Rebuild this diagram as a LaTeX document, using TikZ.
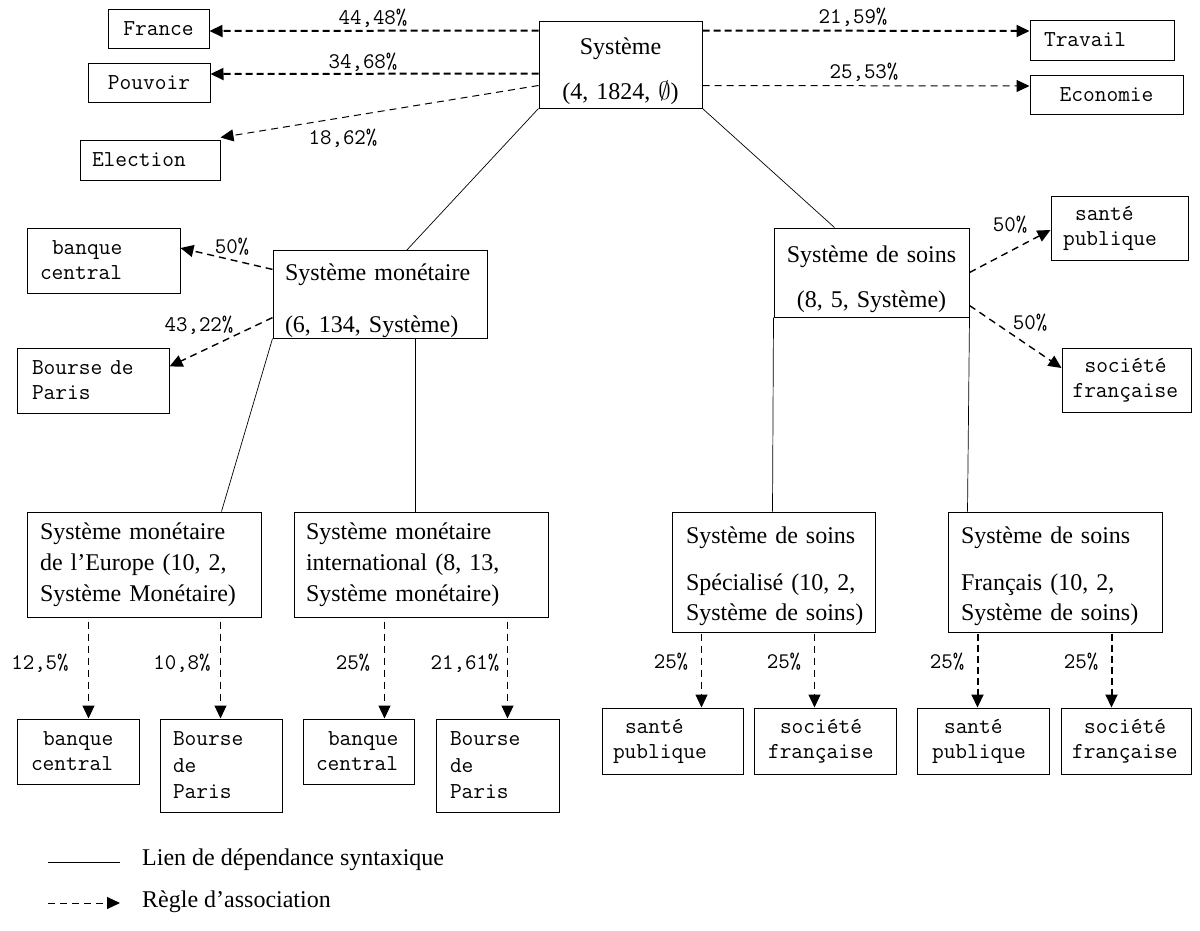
\documentclass[tikz,border=0pt]{standalone}
\usepackage{fontspec}
\setmainfont{Liberation Serif}
\usetikzlibrary{arrows.meta,calc}
\newcommand\mysp{\hspace*{12pt}}
\newcommand\upstrut{\rule{0pt}{30pt}}
\begin{document}
\begin{tikzpicture}[x=1pt,y=-1pt,
  box/.style={draw, line width=1pt, inner ysep=0pt},
  mt/.style={font=\ttfamily\fontsize{22.8}{25}\selectfont},
  mtb/.style={font=\ttfamily\fontsize{22.8}{26.5}\selectfont},
  st/.style={font=\fontsize{24}{30}\selectfont},
  lbl/.style={font=\ttfamily\fontsize{22.3}{24}\selectfont, inner sep=0pt},
  dep/.style={line width=0.7pt},
  tip/.style={-{Triangle[length=13pt,width=12pt]}},
  assocA/.style={tip, line width=2pt, dash pattern=on 7pt off 4pt},
  assocB/.style={tip, line width=1.4pt, dash pattern=on 7pt off 5pt},
  assocC/.style={tip, line width=1pt, dash pattern=on 7pt off 5pt}]
\useasboundingbox (0,0) rectangle (1200,930);

% top row
\node[box, mt, align=center, text width=75pt, inner xsep=13pt, minimum height=39pt] (fr) at (158.5,28.5) {France};
\node[box, mt, align=center, text width=96pt, inner xsep=13pt, minimum height=39pt] (pv) at (149,82.5) {Pouvoir};
\node[box, mt, align=left, text width=116pt, inner xsep=12pt, minimum height=40pt] (el) at (150,160) {Election};
\node[box, font=\fontsize{24}{45}\selectfont, align=center, text width=143pt, inner xsep=10pt, minimum height=87pt] (sys) at (620.5,64.5) {\upstrut Système\\(4, 1824, $\emptyset$)};
\node[box, mt, align=left, text width=116pt, inner xsep=14pt, minimum height=40pt] (tr) at (1102,40) {Travail};
\node[box, mt, align=center, text width=127pt, inner xsep=13pt, minimum height=39pt] (eco) at (1106.5,94.5) {Economie};

% middle row
\node[box, mt, align=left, text width=127pt, inner xsep=13pt, minimum height=65pt] (bc0) at (103.5,260.5) {\mysp banque\\central};
\node[box, mt, align=left, text width=122pt, inner xsep=15pt, minimum height=65pt] (bp0) at (93,380.5) {Bourse de\\Paris};
\node[box, font=\fontsize{24}{52}\selectfont, align=left, text width=190pt, inner xsep=12pt, minimum height=87pt] (sm) at (380,294.5) {\upstrut\mbox{Système monétaire}\\\mbox{(6, 134, Système)}};
\node[box, font=\fontsize{24}{45}\selectfont, align=center, text width=179pt, inner xsep=8pt, minimum height=89pt] (ss) at (871.5,272.5) {\upstrut\mbox{Système de soins}\\\mbox{(8, 5, Système)}};
\node[box, mt, align=left, text width=113pt, inner xsep=12pt, minimum height=64pt] (sp0) at (1119.5,228) {\mysp santé\\publique};
\node[box, mt, align=left, text width=108pt, inner xsep=10.5pt, minimum height=64pt] (sf0) at (1126.5,380) {\mysp société\\française};

% third row
\node[box, font=\fontsize{24}{31}\selectfont, align=left, text width=208pt, inner xsep=13pt, minimum height=105pt] (eu) at (144,564.5) {\mbox{Système monétaire}\\\mbox{de l’Europe (10, 2,}\\\mbox{Système Monétaire)}};
\node[box, font=\fontsize{24}{31}\selectfont, align=left, text width=230pt, inner xsep=12pt, minimum height=105pt] (int) at (421,564.5) {\mbox{Système monétaire}\\\mbox{international (8, 13,}\\\mbox{Système monétaire)}};
\node[box, st, align=left, text width=175pt, inner xsep=14pt, minimum height=120pt] (spe) at (773.5,572) {\rule{0pt}{25pt}\mbox{Système de soins}\\[17pt]\mbox{Spécialisé (10, 2,}\\\mbox{Système de soins)}};
\node[box, st, align=left, text width=188pt, inner xsep=13pt, minimum height=120pt] (fra) at (1055,572) {\rule{0pt}{25pt}\mbox{Système de soins}\\[17pt]\mbox{Français (10, 2,}\\\mbox{Système de soins)}};

% bottom row
\node[box, mt, align=left, text width=94pt, inner xsep=14pt, minimum height=65pt] (bc1) at (78,751.5) {\mysp banque\\central};
\node[box, mtb, align=left, text width=96pt, inner xsep=13pt, minimum height=93pt] (bp1) at (221,765.5) {Bourse\\de\\Paris};
\node[box, mt, align=left, text width=85pt, inner xsep=13pt, minimum height=65pt] (bc2) at (358.5,751.5) {\mysp banque\\central};
\node[box, mtb, align=left, text width=95pt, inner xsep=14pt, minimum height=93pt] (bp2) at (497.5,765.5) {Bourse\\de\\Paris};
\node[box, mt, align=left, text width=119pt, inner xsep=11pt, minimum height=66pt] (sp1) at (672.5,741) {\mysp santé\\publique};
\node[box, mt, align=left, text width=114pt, inner xsep=14pt, minimum height=66pt] (sf1) at (825,741) {\mysp société\\française};
\node[box, mt, align=left, text width=102pt, inner xsep=15pt, minimum height=66pt] (sp2) at (983,741) {\mysp santé\\publique};
\node[box, mt, align=left, text width=108pt, inner xsep=11pt, minimum height=66pt] (sf2) at (1126,741) {\mysp société\\française};

% syntactic dependency links
\draw[dep] (sys.south west) -- ([xshift=134pt]sm.north west);
\draw[dep] (sys.south east) -- ([xshift=61pt]ss.north west);
\draw[dep] (sm.south west) -- ([xshift=195pt]eu.north west);
\draw[dep] ([xshift=143pt]sm.south west) -- ([xshift=122pt]int.north west);
\draw[dep] (ss.south west) -- ([xshift=101pt]spe.north west);
\draw[dep] (ss.south east) -- ([xshift=20pt]fra.north west);

% association rules, top
\draw[assocA] ([yshift=-10pt]sys.north west) -- ([yshift=-2.5pt]fr.east);
\draw[assocA] ([yshift=-53pt]sys.north west) -- ([yshift=8.5pt]pv.east);
\draw[assocC] ([yshift=-65pt]sys.north west) -- ([yshift=2pt]el.north east);
\draw[assocA] ([yshift=-10pt]sys.north east) -- ([yshift=9pt]tr.west);
\draw[assocC] ([yshift=-65pt]sys.north east) -- ([yshift=8.5pt]eco.west);
\node[lbl] (l1) at (373,18) {44,48\%};
\node[lbl] (l2) at (363,62) {34,68\%};
\node[lbl] (l3) at (343,138) {18,62\%};
\node[lbl] (l4) at (853,17) {21,59\%};
\node[lbl] (l5) at (864,72) {25,53\%};

% association rules, middle
\draw[assocB] ([yshift=-19pt]sm.north west) -- ([yshift=12.5pt]bc0.east);
\draw[assocB] ([yshift=21pt]sm.south west) -- ([yshift=-19pt]bp0.north east);
\draw[assocB] (ss.east) -- ([yshift=-2pt]sp0.west);
\draw[assocB] ([yshift=12pt]ss.south east) -- ([yshift=12pt]sf0.west);
\node[lbl] (l6) at (232,247) {50\%};
\node[lbl] (l7) at (199,325) {43,22\%};
\node[lbl] (l8) at (1010,225) {50\%};
\node[lbl] (l9) at (1030,323) {50\%};

% association rules, bottom
\draw[assocC] ([xshift=62pt,yshift=-4pt]eu.south west) -- ([xshift=72pt]bc1.north west);
\draw[assocC] ([xshift=194pt,yshift=-4pt]eu.south west) -- ([xshift=61pt]bp1.north west);
\draw[assocC] ([xshift=91pt,yshift=-4pt]int.south west) -- ([xshift=82pt]bc2.north west);
\draw[assocC] ([xshift=214pt,yshift=-4pt]int.south west) -- ([xshift=72pt]bp2.north west);
\draw[assocC] ([xshift=30pt,yshift=-1pt]spe.south west) -- ([xshift=100pt]sp1.north west);
\draw[assocC] ([xshift=143pt,yshift=-1pt]spe.south west) -- ([xshift=61pt]sf1.north west);
\draw[assocA] ([xshift=30pt,yshift=-1pt]fra.south west) -- ([xshift=61pt]sp2.north west);
\draw[assocA] ([xshift=164pt,yshift=-1pt]fra.south west) -- ([xshift=51pt]sf2.north west);
\node[lbl] (l10) at (40,663) {12,5\%};
\node[lbl] (l11) at (182,663) {10,8\%};
\node[lbl] (l12) at (353,663) {25\%};
\node[lbl] (l13) at (465,663) {21,61\%};
\node[lbl] (l14) at (671,662) {25\%};
\node[lbl] (l15) at (784,662) {25\%};
\node[lbl] (l16) at (947,662) {25\%};
\node[lbl] (l17) at (1081,662) {25\%};

% legend
\coordinate (la) at (48,862);
\coordinate (lb) at (120,862);
\draw[dep] (la) -- (lb);
\node[anchor=west, font=\fontsize{24}{30}\selectfont, inner sep=0pt] (lt1) at (142,860) {Lien de dépendance syntaxique};
\coordinate (lc) at (48,903);
\coordinate (ld) at (120,903);
\draw[assocC] (lc) -- (ld);
\node[anchor=west, font=\fontsize{24}{30}\selectfont, inner sep=0pt] (lt2) at (142,902) {Règle d’association};
\end{tikzpicture}
\end{document}
